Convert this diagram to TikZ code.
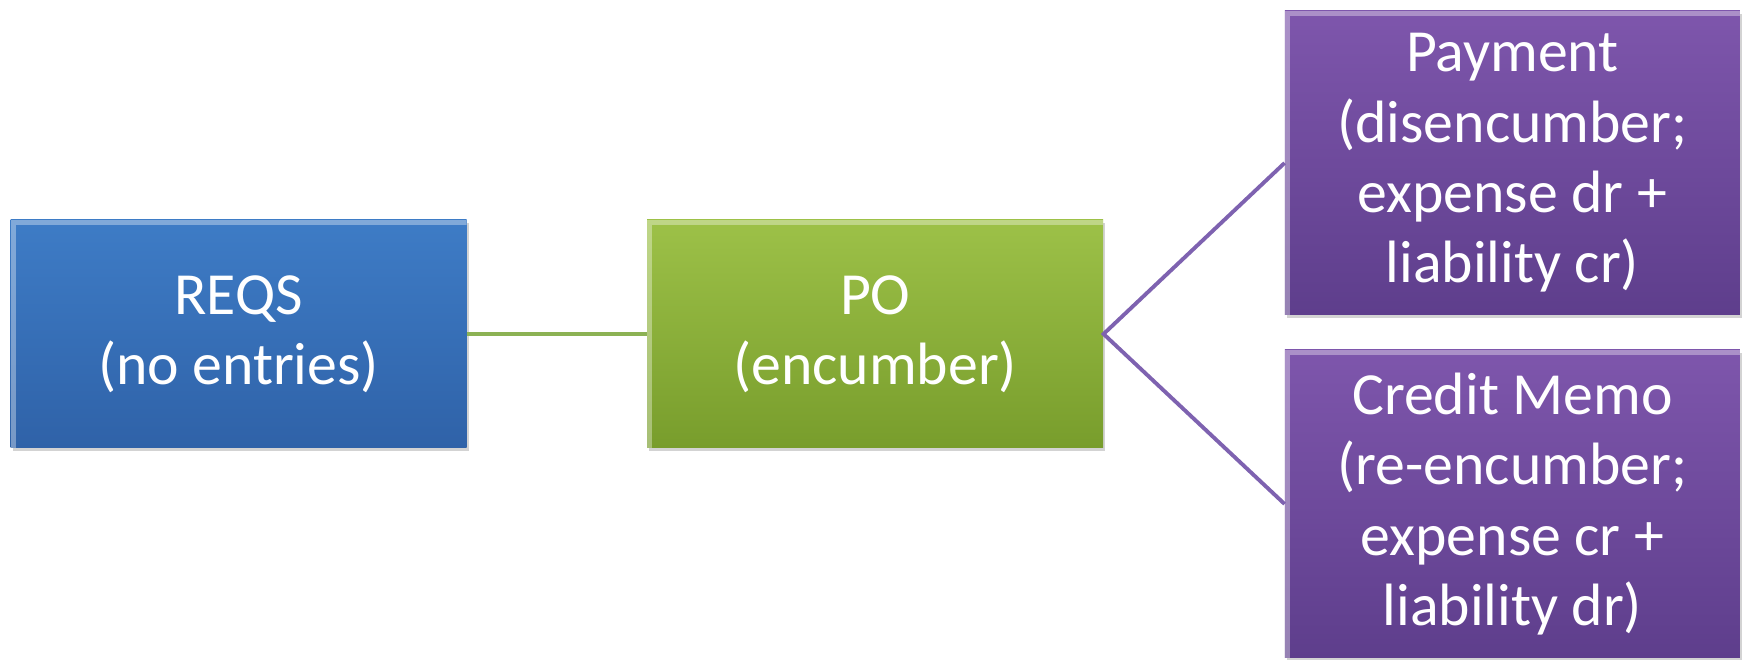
\documentclass[tikz,border=0pt]{standalone}
\usepackage{fontspec}
\setmainfont{Carlito}
\usetikzlibrary{positioning, shadows}
\definecolor{reqsblue}{RGB}{62,124,198}
\definecolor{reqsbluedark}{RGB}{47,98,168}
\definecolor{pogreen}{RGB}{157,193,72}
\definecolor{pogreendark}{RGB}{120,157,44}
\definecolor{paypurple}{RGB}{126,86,172}
\definecolor{paypurpledark}{RGB}{94,62,140}
\definecolor{linkgreen}{RGB}{140,178,84}
\definecolor{linkpurple}{RGB}{126,98,176}
\tikzset{
  box/.style={rectangle, minimum width=9.12cm, text=white, align=center,
    font=\fontsize{34}{40}\selectfont, inner sep=0pt,
    drop shadow={shadow xshift=0.04cm, shadow yshift=-0.06cm, opacity=0.35},
    path picture={% light bevel along the top and left edges
      \draw[white, opacity=0.35, line width=3pt]
        ([xshift=1.5pt]path picture bounding box.south west)
        |- ([yshift=-1.5pt]path picture bounding box.north east);}},
  bluebox/.style={box, minimum height=4.56cm, top color=reqsblue, bottom color=reqsbluedark},
  greenbox/.style={box, minimum height=4.56cm, top color=pogreen, bottom color=pogreendark},
  purplebox/.style={box, minimum width=9.1cm, top color=paypurple, bottom color=paypurpledark},
  link/.style={line width=2.2pt},
}

\begin{document}
\begin{tikzpicture}
  \useasboundingbox (0,0) rectangle (34.88,13.2);
  \node[bluebox] (reqs) at (4.77,6.52) {REQS\\(no entries)};
  \node[greenbox, right=3.6cm of reqs] (po) {PO\\(encumber)};
  \node[purplebox, minimum height=6.08cm, right=3.62cm of po, yshift=3.42cm] (pay)
    {Payment\\(disencumber;\\expense dr +\\liability cr)};
  \node[purplebox, minimum height=6.16cm, right=3.62cm of po, yshift=-3.4cm] (memo)
    {Credit Memo\\(re-encumber;\\expense cr +\\liability dr)};

  \draw[link, linkgreen] (reqs) -- (po);
  \draw[link, linkpurple] (pay.west) -- (po.east) -- (memo.west);
\end{tikzpicture}
\end{document}
